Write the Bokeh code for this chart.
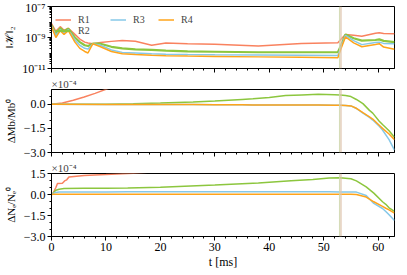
from bokeh.plotting import figure
from bokeh.layouts import column
from bokeh.models import (Range1d, FixedTicker, SingleIntervalTicker, CustomJSTickFormatter,
                          BoxAnnotation, Legend, LegendItem, CustomLabelingPolicy)
from bokeh.embed import file_html
from bokeh.resources import INLINE

# ---------------- data ----------------
series_names = ["R1", "R2", "R3", "R4"]
colors = ["#f9825f", "#8cc63e", "#86c8e8", "#ffa41b"]

# Panel 1: ||H||_2, stored as log10 exponents
t_h = [0, 0.8, 1.6, 2.3, 3.1, 4.3, 5.2, 6.1, 6.7, 7.6, 9, 11, 13, 15.4, 18.4, 21, 25, 30, 38,
       45.9, 52.6, 53.2, 54, 55.5, 57, 59.5, 60.2, 61, 63]
h_r1_exp = [-8.10, -8.60, -8.30, -8.54, -8.40, -8.80, -9.10, -9.30, -9.36, -9.40, -9.33, -9.25, -9.20,
            -9.24, -9.50, -9.36, -9.40, -9.44, -9.55, -9.38, -9.34, -9.10, -8.80, -8.85, -8.92, -8.72,
            -8.70, -8.74, -8.76]
h_r2_exp = [-8.20, -8.80, -8.40, -8.60, -8.44, -9.00, -9.30, -9.50, -9.55, -9.40, -9.40, -9.60, -9.70,
            -9.76, -9.80, -9.85, -9.90, -9.92, -9.95, -9.95, -9.95, -9.50, -8.80, -9.05, -9.20, -9.16,
            -9.12, -9.22, -9.30]
h_r3_exp = [-8.24, -8.86, -8.50, -8.70, -8.50, -9.16, -9.50, -9.70, -9.75, -9.40, -9.50, -9.80, -9.96,
            -10.00, -10.05, -10.08, -10.10, -10.12, -10.13, -10.15, -10.16, -9.60, -8.86, -9.20, -9.46,
            -9.32, -9.30, -9.38, -9.40]
h_r4_exp = [-8.30, -9.00, -8.56, -8.80, -8.56, -9.30, -9.70, -9.90, -10.00, -9.40, -9.60, -9.90, -10.05,
            -10.10, -10.15, -10.18, -10.20, -10.22, -10.25, -10.28, -10.30, -9.70, -8.96, -9.35, -9.60,
            -9.45, -9.40, -9.62, -9.76]

# Panel 2: Delta M_b / M_b^0  (x 1e-4)
t_m_r1 = [0, 2, 4, 6, 8, 10, 12]
m_r1 = [0, 0.08, 0.25, 0.45, 0.68, 0.93, 1.2]
t_m = [0, 10, 15, 20, 26, 30, 35, 37, 40, 43, 46, 49, 52, 53, 54, 55, 56, 57.2, 58.4, 59, 60.2,
       60.8, 62, 63]
m_r2 = [0, 0.01, 0.04, 0.08, 0.14, 0.2, 0.3, 0.34, 0.42, 0.54, 0.58, 0.62, 0.6, 0.58, 0.55, 0.48,
        0.3, 0.04, -0.38, -0.55, -1.05, -1.26, -1.65, -2.05]
m_r3 = [0, -0.01, -0.01, -0.02, -0.02, -0.03, -0.03, -0.04, -0.04, -0.04, -0.05, -0.05, -0.06, -0.06,
        -0.07, -0.1, -0.26, -0.55, -0.82, -0.98, -1.36, -1.6, -2.2, -2.85]
m_r4 = [0, -0.01, -0.01, -0.02, -0.02, -0.03, -0.03, -0.04, -0.04, -0.04, -0.05, -0.05, -0.06, -0.06,
        -0.07, -0.1, -0.25, -0.52, -0.78, -0.92, -1.3, -1.5, -1.85, -2.2]

# Panel 3: Delta N_e / N_e^0  (x 1e-4)
t_n_r1 = [0, 0.2, 0.8, 1.1, 2.0, 2.4, 2.8, 3.2, 6, 10, 15, 18]
n_r1 = [0, 0.02, 0.5, 0.78, 0.8, 0.97, 1.05, 1.25, 1.36, 1.42, 1.52, 1.6]
t_n = [0, 0.3, 0.8, 1.4, 2.3, 6, 10, 14, 20, 30, 38, 44, 48, 51, 53, 55, 56, 57.8, 59.2, 60.8,
       61.4, 62, 63]
n_r2 = [0, 0.1, 0.3, 0.38, 0.42, 0.44, 0.45, 0.46, 0.52, 0.68, 0.82, 0.98, 1.08, 1.18, 1.2, 1.12,
        0.97, 0.55, 0.1, -0.52, -0.7, -0.95, -1.21]
n_r3 = [0, 0.08, 0.15, 0.17, 0.18, 0.18, 0.18, 0.19, 0.19, 0.19, 0.19, 0.19, 0.19, 0.19, 0.18, 0.18,
        0.17, -0.07, -0.64, -1.0, -1.21, -1.45, -1.86]
n_r4 = [0, 0.01, 0.02, 0.02, 0.02, 0.02, 0.02, 0.02, 0.02, 0.02, 0.02, 0.02, 0.02, 0.02, 0.02, 0.02,
        0.0, -0.18, -0.52, -0.85, -0.98, -1.1, -1.33]

event_left, event_mid, event_right = 52.8, 53.05, 53.3
lin_ticks = [-3.0, -1.5, 0.0, 1.5]

# ---------------- styling ----------------
FONT = "'Liberation Serif', serif"
x_range = Range1d(0, 63)

hide_labels = CustomLabelingPolicy(code="""
const all = [...indices];
for (const i of all) indices.unset(i);
return indices;
""")

def style(p, show_x_labels):
    p.xgrid.grid_line_color = None
    p.ygrid.grid_line_color = None
    p.outline_line_color = "black"
    p.outline_line_width = 1
    p.background_fill_color = "white"
    p.border_fill_color = "white"
    for ax in (p.xaxis[0], p.yaxis[0]):
        ax.major_tick_in = 0
        ax.major_tick_out = 4
        ax.minor_tick_in = 0
        ax.minor_tick_out = 2
        ax.axis_line_color = "black"
        ax.major_label_text_font = FONT
        ax.major_label_text_font_size = "12px"
        ax.major_label_text_color = "black"
        ax.axis_label_text_font = FONT
        ax.axis_label_text_font_size = "11px"
        ax.axis_label_text_font_style = "normal"
        ax.axis_label_text_color = "black"
    p.yaxis[0].major_label_standoff = 2
    p.yaxis[0].axis_label_standoff = 4
    p.xaxis[0].ticker = SingleIntervalTicker(interval=10, num_minor_ticks=5)
    if show_x_labels:
        p.xaxis[0].major_label_standoff = 2
        p.xaxis[0].axis_label_standoff = 1
        p.xaxis[0].axis_label_text_font_size = "12px"
        p.xaxis[0].axis_label = "t [ms]"
    else:
        p.xaxis[0].major_label_text_font_size = "0px"
        p.xaxis[0].major_label_standoff = 0
        p.xaxis[0].major_label_policy = hide_labels

def add_band(p):
    p.add_layout(BoxAnnotation(left=event_left, right=event_mid, fill_color="#cfd6ab",
                               fill_alpha=0.85, line_color=None))
    p.add_layout(BoxAnnotation(left=event_mid, right=event_right, fill_color="#dfc4ae",
                               fill_alpha=0.85, line_color=None))

def lin_ticker():
    minors = [-3.0 + 0.5 * k for k in range(10)]
    return FixedTicker(ticks=lin_ticks, minor_ticks=minors)

lin_fmt = CustomJSTickFormatter(code="""
const s = Math.abs(tick).toFixed(1);
return (tick < -1e-9 ? "\u2212" : "") + s;
""")

log_fmt = CustomJSTickFormatter(code="""
const e = Math.round(Math.log10(tick));
const sup = {"-": "\u207b", "0": "\u2070", "1": "\u00b9", "2": "\u00b2", "3": "\u00b3",
             "4": "\u2074", "5": "\u2075", "6": "\u2076", "7": "\u2077", "8": "\u2078", "9": "\u2079"};
return "10" + String(e).split("").map(c => sup[c]).join("");
""")

common = dict(frame_width=343, min_border_left=46, min_border_right=2,
              output_backend="svg", toolbar_location=None, x_range=x_range)

# ---------------- panel 1 ----------------
p1 = figure(frame_height=62, min_border_top=6, min_border_bottom=7, y_axis_type="log",
            y_range=Range1d(1e-11, 1e-7), **common)
style(p1, False)
log_minor = [m * 10.0 ** e for e in range(-11, -7) for m in range(1, 10)]
p1.yaxis[0].ticker = FixedTicker(ticks=[1e-11, 1e-9, 1e-7], minor_ticks=log_minor)
p1.yaxis[0].formatter = log_fmt
p1.yaxis[0].axis_label = "\u2016\u210b\u2016\u2082"
h_data = [h_r1_exp, h_r2_exp, h_r3_exp, h_r4_exp]
widths = [1.5, 2.2, 1.5, 1.5]
rends = []
for name, col, ex, w in zip(series_names, colors, h_data, widths):
    vals = [10.0 ** e for e in ex]
    rends.append(p1.line(t_h, vals, color=col, line_width=w))
add_band(p1)
leg_a = Legend(items=[LegendItem(label="R1", renderers=[rends[0]]),
                      LegendItem(label="R2", renderers=[rends[1]])],
               location=(4, 32), orientation="vertical")
leg_b = Legend(items=[LegendItem(label="R3", renderers=[rends[2]]),
                      LegendItem(label="R4", renderers=[rends[3]])],
               location=(59, 43), orientation="horizontal")
for lg in (leg_a, leg_b):
    lg.label_text_font = FONT
    lg.label_text_font_size = "10px"
    lg.label_height = 7
    lg.glyph_height = 7
    lg.glyph_width = 16
    lg.label_standoff = 7
    lg.spacing = -3
    lg.padding = 0
    lg.margin = 0
    lg.background_fill_alpha = 0
    lg.border_line_alpha = 0
    p1.add_layout(lg)
leg_b.spacing = 5

# ---------------- panel 2 ----------------
p2 = figure(frame_height=63, min_border_top=10, min_border_bottom=7,
            y_range=Range1d(-3.0, 0.92), title="\u00d710\u207b\u2074", **common)
style(p2, False)
p2.yaxis[0].ticker = lin_ticker()
p2.yaxis[0].formatter = lin_fmt
p2.yaxis[0].axis_label = "\u0394Mb/Mb\u2070"
p2.line(t_m_r1, m_r1, color=colors[0], line_width=1.5)
for col, vals in zip(colors[1:], [m_r2, m_r3, m_r4]):
    p2.line(t_m, vals, color=col, line_width=1.5)
add_band(p2)

# ---------------- panel 3 ----------------
p3 = figure(frame_height=63, min_border_top=10, min_border_bottom=0,
            y_range=Range1d(-3.0, 1.5), title="\u00d710\u207b\u2074", **common)
style(p3, True)
p3.yaxis[0].ticker = lin_ticker()
p3.yaxis[0].formatter = lin_fmt
p3.yaxis[0].axis_label = "\u0394N\u2091/N\u2091\u2070"
p3.line(t_n_r1, n_r1, color=colors[0], line_width=1.5)
for col, vals in zip(colors[1:], [n_r2, n_r3, n_r4]):
    p3.line(t_n, vals, color=col, line_width=1.5)
add_band(p3)

for p in (p2, p3):
    p.title.align = "left"
    p.title.text_font = FONT
    p.title.text_font_size = "11px"
    p.title.text_font_style = "normal"
    p.title.standoff = 0
    p.title.offset = 0

layout = column(p1, p2, p3, spacing=0)
open("out.html", "w").write(file_html(layout, INLINE))
